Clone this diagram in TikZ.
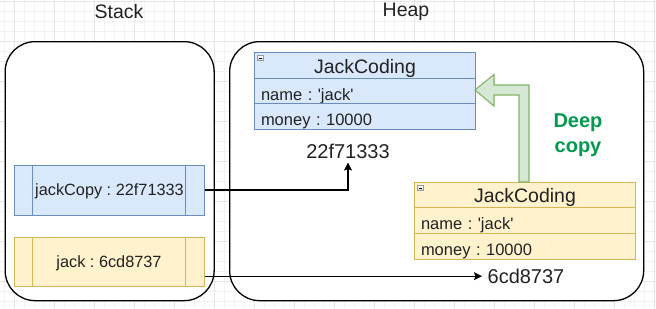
\documentclass[tikz,border=0pt]{standalone}
\usepackage{fontspec}
\setmainfont{Liberation Sans}
\usetikzlibrary{arrows.meta}
\frenchspacing
\definecolor{bluef}{HTML}{DAE8FC}
\definecolor{blued}{HTML}{6C8EBF}
\definecolor{yelf}{HTML}{FFF2CC}
\definecolor{yeld}{HTML}{D6B656}
\definecolor{grnf}{HTML}{D5E8D4}
\definecolor{grnd}{HTML}{82B366}
\definecolor{grntxt}{HTML}{00994D}
\definecolor{txt}{HTML}{222222}
\definecolor{gridmin}{HTML}{F3F3F3}
\definecolor{gridmaj}{HTML}{E4E4E4}
\tikzset{
  container/.style={draw=black, line width=1.3pt, rounded corners=30pt},
  lbl/.style={inner sep=0pt, text=txt, font={\fontsize{19.5pt}{23pt}\selectfont}},
  hdr/.style={anchor=north west, minimum width=221pt, text height=21pt, text depth=5pt, inner sep=0pt, line width=1pt, text=txt, font={\fontsize{19.5pt}{23pt}\selectfont}},
  row/.style={anchor=north west, text width=208pt, inner xsep=6.5pt, inner ysep=0pt, align=left, text height=21.5pt, text depth=4pt, line width=1pt, text=txt, font={\fontsize{16.5pt}{20pt}\selectfont}},
  blueb/.style={draw=blued, fill=bluef},
  yelb/.style={draw=yeld, fill=yelf},
  var/.style={minimum width=190pt, minimum height=50pt, inner sep=0pt, line width=1pt, text=txt, font={\fontsize{16.3pt}{20pt}\selectfont}},
  vartext/.style={inner sep=0pt, anchor=base, text=txt, font={\fontsize{16.3pt}{20pt}\selectfont}},
  addr/.style={inner sep=0pt, text=txt, font={\fontsize{20pt}{24pt}\selectfont}},
  conn/.style={draw=black, line width=1.05pt, -{Stealth[length=8pt,width=8pt,inset=1.5pt]}},
  icon/.style={draw=gray!80, line width=0.6pt, top color=white, bottom color=gray!35},
}
\begin{document}
\begin{tikzpicture}[x=1pt,y=-1pt]
\useasboundingbox (0,0) rectangle (656,308);
% grid
\foreach \x in {4,14,...,654} \draw[gridmin, line width=0.6pt] (\x,0) -- (\x,308);
\foreach \y in {1,11,...,301} \draw[gridmin, line width=0.6pt] (0,\y) -- (656,\y);
\foreach \x in {14,54,...,654} \draw[gridmaj, line width=0.8pt] (\x,0) -- (\x,308);
\foreach \y in {1,41,...,301} \draw[gridmaj, line width=0.8pt] (0,\y) -- (656,\y);

% titles
\node[lbl] (stacklbl) at (119,12) {Stack};
\node[lbl] (heaplbl) at (406,12) {Heap};

% containers
\node[container, fill=white, minimum width=209pt, minimum height=259pt, anchor=north west, inner sep=0pt] (stack) at (4.5,41) {};
\node[container, fill=white, minimum width=414pt, minimum height=259pt, anchor=north west, inner sep=0pt] (heap) at (229,41) {};

% blue class
\node[hdr, blueb] (bh) at (254,52) {JackCoding};
\node[row, blueb, text depth=3.5pt] (bn) at (254,78) {name : \textquotesingle jack\textquotesingle};
\node[row, blueb] (bm) at (254,103) {money : 10000};
\draw[icon] (257.5,55.5) rectangle (263.5,60.5);
\draw[black, line width=0.7pt] (258.7,58) -- (262.3,58);

% yellow class
\node[hdr, yelb, text depth=5.3pt, text height=20pt] (yh) at (414,182) {JackCoding};
\node[row, yelb, text height=21.7pt] (yn) at (414,207.3) {name : \textquotesingle jack\textquotesingle};
\node[row, yelb] (ym) at (414,233) {money : 10000};
\draw[icon] (417.5,185.5) rectangle (423.5,190.5);
\draw[black, line width=0.7pt] (418.7,188) -- (422.3,188);

% addresses
\node[addr] (a1) at (348,151.3) {22f71333};
\node[addr] (a2) at (526,276.2) {6cd8737};

% stack variables
\node[var, blueb] (jc) at (109,190) {};
\node[vartext] (jct) at (109.5,195.7) {jackCopy : 22f71333};
\draw[blued, line width=1pt] ([xshift=19pt]jc.north west) -- ([xshift=19pt]jc.south west);
\draw[blued, line width=1pt] ([xshift=-19pt]jc.north east) -- ([xshift=-19pt]jc.south east);
\node[var, yelb, minimum height=49pt] (jk) at (109,261.5) {};
\node[vartext] (jkt) at (109,267.3) {jack : 6cd8737};
\draw[yeld, line width=1pt] ([xshift=19pt]jk.north west) -- ([xshift=19pt]jk.south west);
\draw[yeld, line width=1pt] ([xshift=-19pt]jk.north east) -- ([xshift=-19pt]jk.south east);

% connectors
\draw[conn] (jc.east) -| ([yshift=-3.7pt]a1.south);
\draw[conn] (jk.east |- a2.west) -- ([xshift=-5.5pt]a2.west);

% deep copy block arrow
\draw[draw=grnd, fill=grnf, line width=1.1pt, line join=miter]
  (519,182) -- (519,95) -- (494,95) -- (494,106) -- (475,90) -- (494,74.5) -- (494,85) -- (529,85) -- (529,182) -- cycle;
\node[align=center, text=grntxt, font={\bfseries\fontsize{20pt}{25pt}\selectfont}, inner sep=0pt] (deep) at (578,135) {Deep\\copy};
\end{tikzpicture}
\end{document}
